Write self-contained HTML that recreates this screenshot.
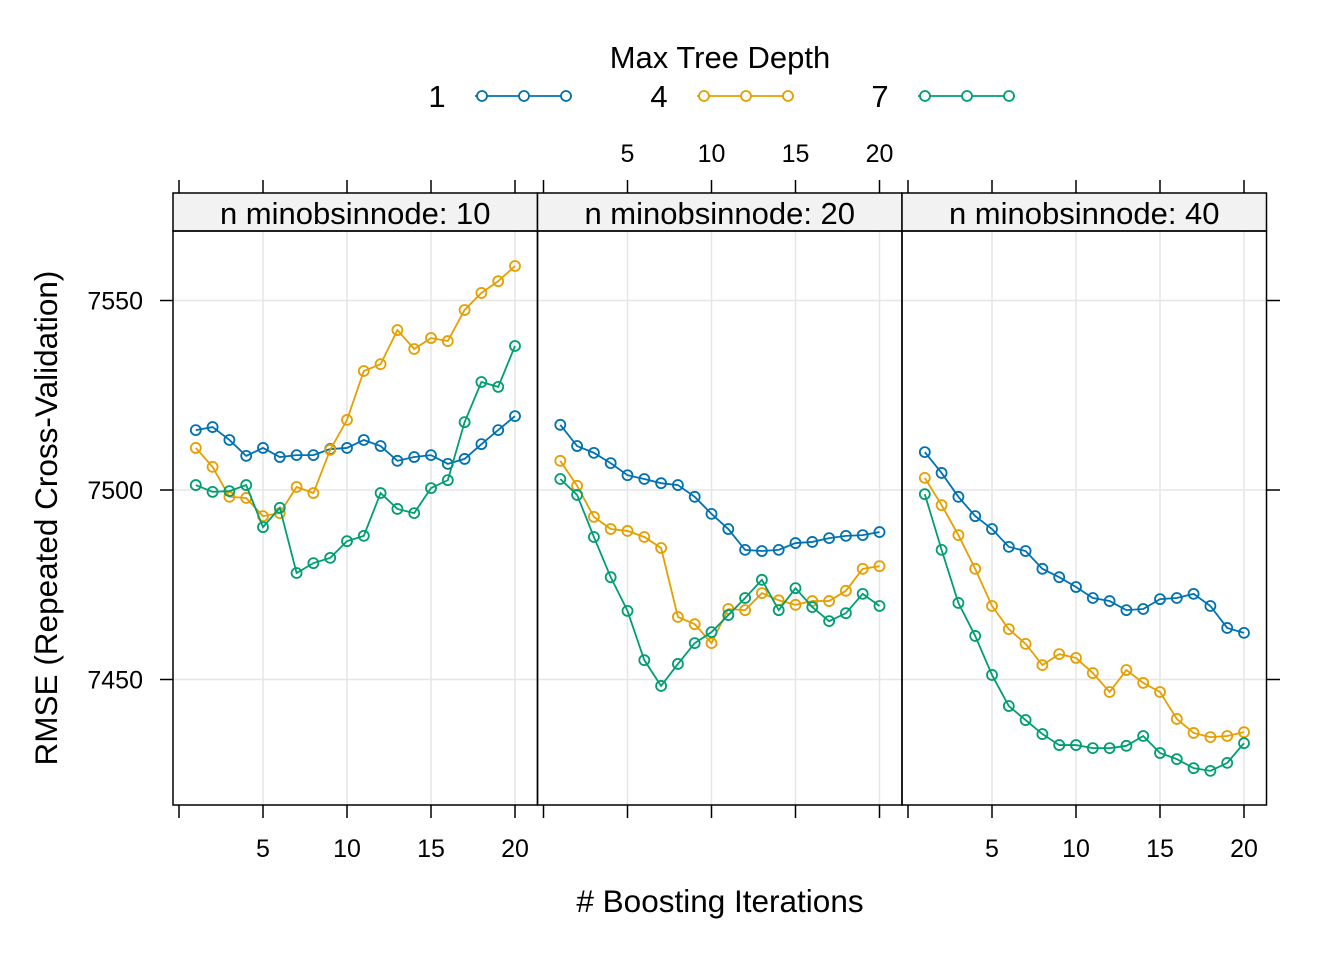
<!DOCTYPE html>
<html><head><meta charset="utf-8"><style>
html,body{margin:0;padding:0;background:#fff}
svg{display:block;font-family:"Liberation Sans",Arial,sans-serif}
</style></head><body>
<svg id="chart" width="1344" height="960" viewBox="0 0 1344 960" xmlns="http://www.w3.org/2000/svg">
<g id="grid"></g>
<g id="axes"></g>
<g id="marks"></g>
<text x="720" y="68" text-anchor="middle" font-size="31">Max Tree Depth</text>
<text x="720" y="912" text-anchor="middle" font-size="31.5"># Boosting Iterations</text>
<text transform="translate(57,518) rotate(-90)" text-anchor="middle" font-size="31.5">RMSE (Repeated Cross-Validation)</text>
<g id="legend"></g>
</svg>
<script>
const iterations = [1,2,3,4,5,6,7,8,9,10,11,12,13,14,15,16,17,18,19,20];
const panels = ["n minobsinnode: 10","n minobsinnode: 20","n minobsinnode: 40"];
const depths = ["1","4","7"];
const xTicks = [5,10,15,20];
const yTicks = [7450,7500,7550];
const p1d1 = [7515.8,7516.6,7513.2,7509.0,7511.1,7508.7,7509.2,7509.2,7510.8,7511.1,7513.2,7511.6,7507.7,7508.7,7509.2,7506.9,7508.2,7512.1,7515.8,7519.5];
const p1d4 = [7511.1,7506.1,7498.2,7497.9,7493.1,7493.9,7500.8,7499.2,7510.6,7518.5,7531.4,7533.2,7542.2,7537.2,7540.1,7539.3,7547.5,7552.0,7555.1,7559.1];
const p1d7 = [7501.3,7499.5,7499.7,7501.3,7490.2,7495.3,7478.1,7480.7,7482.1,7486.5,7487.9,7499.2,7495.0,7493.9,7500.5,7502.6,7517.9,7528.5,7527.2,7538.0];
const p2d1 = [7517.2,7511.6,7509.8,7507.1,7503.9,7502.9,7501.8,7501.3,7498.2,7493.7,7489.7,7484.2,7483.9,7484.2,7486.0,7486.3,7487.3,7487.9,7488.1,7488.9];
const p2d4 = [7507.7,7501.1,7492.9,7489.7,7489.2,7487.6,7484.7,7466.5,7464.6,7459.6,7468.6,7468.3,7472.8,7470.9,7469.7,7470.7,7470.7,7473.4,7479.2,7479.9];
const p2d7 = [7502.9,7498.7,7487.6,7477.0,7468.1,7455.1,7448.3,7454.1,7459.6,7462.5,7467.0,7471.5,7476.3,7468.3,7474.1,7469.1,7465.4,7467.5,7472.6,7469.4];
const p3d1 = [7510.0,7504.5,7498.2,7493.1,7489.7,7485.0,7483.9,7479.2,7477.0,7474.4,7471.5,7470.7,7468.3,7468.6,7471.2,7471.5,7472.6,7469.4,7463.6,7462.3];
const p3d4 = [7503.2,7496.0,7488.1,7479.2,7469.4,7463.3,7459.4,7453.8,7456.7,7455.7,7451.7,7446.7,7452.5,7449.1,7446.7,7439.6,7435.9,7434.8,7435.1,7436.1];
const p3d7 = [7498.9,7484.2,7470.2,7461.5,7451.2,7443.0,7439.3,7435.6,7432.7,7432.7,7431.9,7431.9,7432.5,7435.1,7430.6,7429.0,7426.6,7425.9,7428.0,7433.2];
const series = [[p1d1,p1d4,p1d7],[p2d1,p2d4,p2d7],[p3d1,p3d4,p3d7]];
const colors = ["#0072B2","#E69F00","#009E73"];

const NS="http://www.w3.org/2000/svg";
const panelLeft=[173,537.5,902], panelW=364.5, pTop=231, pBottom=805, stripTop=193;
function xs(p,v){return panelLeft[p]+22.8+(v-1)*16.8;}
function ys(v){return 490-(v-7500)*3.79;}
function mk(tag,attrs,parent){const e=document.createElementNS(NS,tag);for(const k in attrs)e.setAttribute(k,attrs[k]);parent.appendChild(e);return e;}
const grid=document.getElementById('grid'),axes=document.getElementById('axes'),marks=document.getElementById('marks'),legend=document.getElementById('legend');

for(let p=0;p<3;p++){
  const L=panelLeft[p];
  for(const t of xTicks){const x=xs(p,t);
    const g=mk('line',{x1:x,x2:x,y1:pTop,y2:pBottom,stroke:'#e6e6e6','stroke-width':1.5},grid);
    }
  for(const t of yTicks){const y=ys(t);
    const g=mk('line',{x1:L,x2:L+panelW,y1:y,y2:y,stroke:'#e6e6e6','stroke-width':1.5},grid);
    }
  const s=mk('rect',{x:L,y:stripTop,width:panelW,height:pTop-stripTop,fill:'#f2f2f2',stroke:'#000','stroke-width':1.5},axes);
  
  const st=mk('text',{x:L+panelW/2,y:224,'text-anchor':'middle','font-size':31},axes);st.textContent=panels[p];
  
  const fr=mk('rect',{x:L,y:pTop,width:panelW,height:pBottom-pTop,fill:'none',stroke:'#000','stroke-width':1.5},axes);
  
  for(const t of [0].concat(xTicks)){const x=xs(p,t);
    const a=mk('line',{x1:x,x2:x,y1:pBottom,y2:pBottom+13,stroke:'#000','stroke-width':1.5},axes);
    
    const b=mk('line',{x1:x,x2:x,y1:stripTop,y2:stripTop-13,stroke:'#000','stroke-width':1.5},axes);
    
    if(t>0){
      if(p!==1){const tl=mk('text',{x:x,y:857,'text-anchor':'middle','font-size':25},axes);tl.textContent=t;
        }
      else{const tl=mk('text',{x:x,y:162,'text-anchor':'middle','font-size':25},axes);tl.textContent=t;
        }
    }
  }
  for(let d=0;d<3;d++){
    const vals=series[p][d];
    const pts=iterations.map((it,i)=>xs(p,it)+','+ys(vals[i])).join(' ');
    const pl=mk('polyline',{points:pts,fill:'none',stroke:colors[d],'stroke-width':1.8},marks);
    
    iterations.forEach((it,i)=>{
      const c=mk('circle',{cx:xs(p,it),cy:ys(vals[i]),r:5,fill:'none',stroke:colors[d],'stroke-width':1.8},marks);
      
    });
  }
}
for(const t of yTicks){const y=ys(t);
  const a=mk('line',{x1:160,x2:173,y1:y,y2:y,stroke:'#000','stroke-width':1.5},axes);
  
  const b=mk('line',{x1:1266.5,x2:1280,y1:y,y2:y,stroke:'#000','stroke-width':1.5},axes);
  
  const tl=mk('text',{x:143,y:y+9,'text-anchor':'end','font-size':25},axes);tl.textContent=t;
  
}
const legX=[437,659,880];
for(let d=0;d<3;d++){
  const t=mk('text',{x:legX[d],y:107,'text-anchor':'middle','font-size':31},legend);t.textContent=depths[d];
  
  const x0=legX[d]+38;
  const l=mk('line',{x1:x0,x2:x0+97,y1:96,y2:96,stroke:colors[d],'stroke-width':1.8},legend);
  
  for(const o of [7,49,91]){
    const c=mk('circle',{cx:x0+o,cy:96,r:5,fill:'#fff',stroke:colors[d],'stroke-width':1.8},legend);
    
  }
}
</script>
</body></html>
